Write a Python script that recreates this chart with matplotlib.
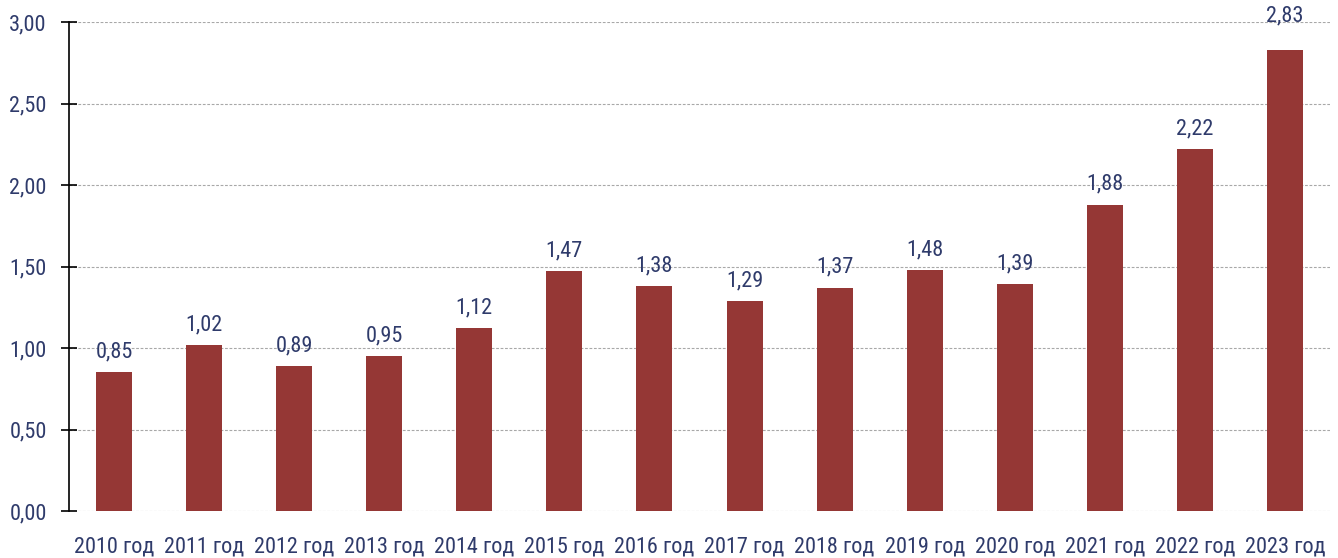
import matplotlib
matplotlib.use("Agg")
import matplotlib.pyplot as plt
from matplotlib import font_manager

years = ["2010 год", "2011 год", "2012 год", "2013 год", "2014 год", "2015 год", "2016 год",
         "2017 год", "2018 год", "2019 год", "2020 год", "2021 год", "2022 год", "2023 год"]
values = [0.85, 1.02, 0.89, 0.95, 1.12, 1.47, 1.38, 1.29, 1.37, 1.48, 1.39, 1.88, 2.22, 2.83]
yticks = [0.0, 0.5, 1.0, 1.5, 2.0, 2.5, 3.0]

names = sorted({f.name for f in font_manager.fontManager.ttflist})
narrow = [n for n in names if ("Narrow" in n or "Condensed" in n)]
pref = ["Liberation Sans Narrow", "Roboto Condensed", "Open Sans Condensed", "Noto Sans Condensed"]
fam = next((p for p in pref if p in names), narrow[0] if narrow else "Liberation Sans")
plt.rcParams['font.family'] = [fam, 'DejaVu Sans']
fs = 16 if fam != "Liberation Sans" else 14

text_color = "#2F3B6B"
bar_color = "#953735"

fig = plt.figure(figsize=(13.38, 5.58), dpi=100)
ax = fig.add_axes([69/1338, 47/558, (1330-69)/1338, (511-22)/558])

x = list(range(len(years)))
ax.bar(x, values, width=0.4, color=bar_color, zorder=3)
for xi, v in zip(x, values):
    off = 0.14 if v > 2.7 else 0.06
    ax.text(xi, v + off, f"{v:.2f}".replace(".", ","), ha="center", va="bottom",
            fontsize=fs, color=text_color, zorder=4)

ax.set_xlim(-0.5, len(years) - 0.5)
ax.set_ylim(0, 3.0)
ax.set_yticks(yticks)
ax.set_yticklabels([f"{t:.2f}".replace(".", ",") for t in yticks], fontsize=fs, color=text_color)
ax.set_xticks(x)
ax.set_xticklabels(years, fontsize=fs, color=text_color)
ax.tick_params(axis="x", length=0, pad=18)
ax.tick_params(axis="y", direction="inout", length=12, width=1.2, color="black", pad=10)
ax.yaxis.grid(True, linestyle=(0, (2.5, 1.5)), color="#a8a8a8", linewidth=0.8, zorder=0)
for s in ["top", "right", "bottom"]:
    ax.spines[s].set_visible(False)
ax.spines["left"].set_color("black")
ax.spines["left"].set_linewidth(1.2)
ax.spines["left"].set_zorder(5)

fig.savefig("out.png", dpi=100)
